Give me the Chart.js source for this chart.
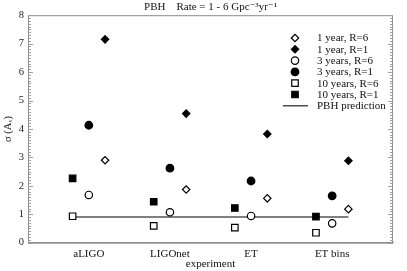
<!DOCTYPE html>
<html>
<head>
<meta charset="utf-8">
<script src="https://cdn.jsdelivr.net/npm/chart.js@4"></script>
<style>
  html, body { margin: 0; padding: 0; background: #fff; }
</style>
</head>
<body>
<canvas id="chart" width="407" height="271"></canvas>
<script>
// categories and series values
var experiments = ["aLIGO", "LIGOnet", "ET", "ET bins"];
var oneYearR6 = [2.90, 1.87, 1.56, 1.18];
var oneYearR1 = [7.15, 4.54, 3.82, 2.88];
var threeYearsR6 = [1.68, 1.07, 0.94, 0.68];
var threeYearsR1 = [4.13, 2.62, 2.17, 1.65];
var tenYearsR6 = [0.93, 0.59, 0.53, 0.35];
var tenYearsR1 = [2.26, 1.44, 1.22, 0.92];
var pbhPrediction = 0.9;
var yTicks = [0, 1, 2, 3, 4, 5, 6, 7, 8];

var serif = "'Liberation Serif', 'DejaVu Serif', 'Times New Roman', serif";

// markers inside each experiment group: 10 yr left, 3 yr middle, 1 yr right
function pts(values, shift) {
    return values.map(function (v, i) { return { x: i + 1 + shift, y: v }; });
}

var series = [
    { label: '1 year, R=6', values: oneYearR6, shift: 0.2, style: 'rectRot', r: 3.7, filled: false },
    { label: '1 year, R=1', values: oneYearR1, shift: 0.2, style: 'rectRot', r: 3.7, filled: true },
    { label: '3 years, R=6', values: threeYearsR6, shift: 0, style: 'circle', r: 3.7, filled: false },
    { label: '3 years, R=1', values: threeYearsR1, shift: 0, style: 'circle', r: 3.8, filled: true },
    { label: '10 years, R=6', values: tenYearsR6, shift: -0.2, style: 'rect', r: 4.6, filled: false },
    { label: '10 years, R=1', values: tenYearsR1, shift: -0.2, style: 'rect', r: 4.6, filled: true }
];

var datasets = [{
    label: 'PBH prediction',
    type: 'line',
    data: [{ x: 0.8, y: pbhPrediction }, { x: experiments.length + 0.2, y: pbhPrediction }],
    borderColor: '#555',
    borderWidth: 1.5,
    pointRadius: 0,
    fill: false,
    order: 10
}];
series.forEach(function (s) {
    datasets.push({
        label: s.label,
        data: pts(s.values, s.shift),
        pointStyle: s.style,
        pointRadius: s.r,
        pointBackgroundColor: s.filled ? '#000' : '#fff',
        pointBorderColor: '#000',
        pointBorderWidth: 1.2,
        showLine: false
    });
});

// frame, inward minor ticks and the legend
var framePlugin = {
    id: 'frame',
    afterDraw: function (chart) {
        var ctx = chart.ctx, a = chart.chartArea, ys = chart.scales.y;
        ctx.save();
        ctx.strokeStyle = '#8c8c8c';
        ctx.lineWidth = 1;
        ctx.strokeRect(a.left + 0.5, a.top + 0.5, a.right - a.left - 1, a.bottom - a.top);
        ctx.strokeStyle = '#a0a0a0';
        ctx.beginPath();
        for (var i = 0; i <= 80; i++) {
            var y = Math.round(ys.getPixelForValue(i / 10)) + 0.5;
            var len = (i % 10 === 0) ? 5 : 3;
            ctx.moveTo(a.left, y); ctx.lineTo(a.left + len, y);
            ctx.moveTo(a.right, y); ctx.lineTo(a.right - len, y);
        }
        ctx.stroke();

        // legend
        var lx = 295, tx = 317, ly = 38, step = 11.3;
        ctx.font = '11px ' + serif;
        ctx.textBaseline = 'middle';
        ctx.textAlign = 'left';
        series.forEach(function (s, i) {
            var y = ly + i * step;
            ctx.fillStyle = s.filled ? '#000' : '#fff';
            ctx.strokeStyle = '#000';
            ctx.lineWidth = 1.2;
            Chart.helpers.drawPoint(ctx, { pointStyle: s.style, radius: s.r, borderWidth: 1.2 }, lx, y);
            ctx.fillStyle = '#111';
            ctx.fillText(s.label, tx, y + 0.5);
        });
        var y = ly + series.length * step;
        ctx.strokeStyle = '#222';
        ctx.lineWidth = 1.2;
        ctx.beginPath();
        ctx.moveTo(283, y); ctx.lineTo(308, y);
        ctx.stroke();
        ctx.fillStyle = '#111';
        ctx.fillText('PBH prediction', tx, y + 0.5);
        ctx.restore();
    }
};

var ctx = document.getElementById("chart").getContext("2d");
var chart = new Chart(ctx, {
    type: 'scatter',
    data: { datasets: datasets },
    options: {
        responsive: false,
        animation: false,
        layout: { padding: { left: 0, right: 14, top: 0, bottom: 0 } },
        scales: {
            x: {
                type: 'linear',
                min: 0.25,
                max: 4.75,
                afterFit: function (scale) { scale.height = 28.3; },
                afterBuildTicks: function (scale) {
                    scale.ticks = experiments.map(function (e, i) { return { value: i + 1 }; });
                },
                grid: { display: false, drawTicks: false },
                border: { display: true, color: '#8c8c8c' },
                ticks: {
                    padding: 5,
                    color: '#111',
                    font: { family: serif, size: 11 },
                    callback: function (value) { return experiments[value - 1]; }
                },
                title: {
                    display: true,
                    text: 'experiment',
                    color: '#111',
                    padding: 0,
                    font: { family: serif, size: 11 }
                }
            },
            y: {
                min: 0,
                max: 8,
                afterFit: function (scale) { scale.width = 28; },
                afterBuildTicks: function (scale) {
                    scale.ticks = yTicks.map(function (v) { return { value: v }; });
                },
                grid: { display: false, drawTicks: false },
                border: { display: true, color: '#8c8c8c' },
                ticks: {
                    padding: 4,
                    color: '#222',
                    font: { family: serif, size: 10.5 }
                },
                title: {
                    display: true,
                    text: 'σ (Aᵥ)',
                    color: '#222',
                    padding: { top: 2, bottom: 0 },
                    font: { family: serif, size: 10.5 }
                }
            }
        },
        plugins: {
            legend: { display: false },
            tooltip: { enabled: false },
            title: {
                display: true,
                fullSize: false,
                text: 'PBH    Rate = 1 - 6 Gpc⁻³yr⁻¹',
                color: '#111',
                padding: { top: 1, bottom: 1 },
                font: { family: serif, size: 11, weight: 'normal' }
            }
        }
    },
    plugins: [framePlugin]
});
</script>
</body>
</html>
